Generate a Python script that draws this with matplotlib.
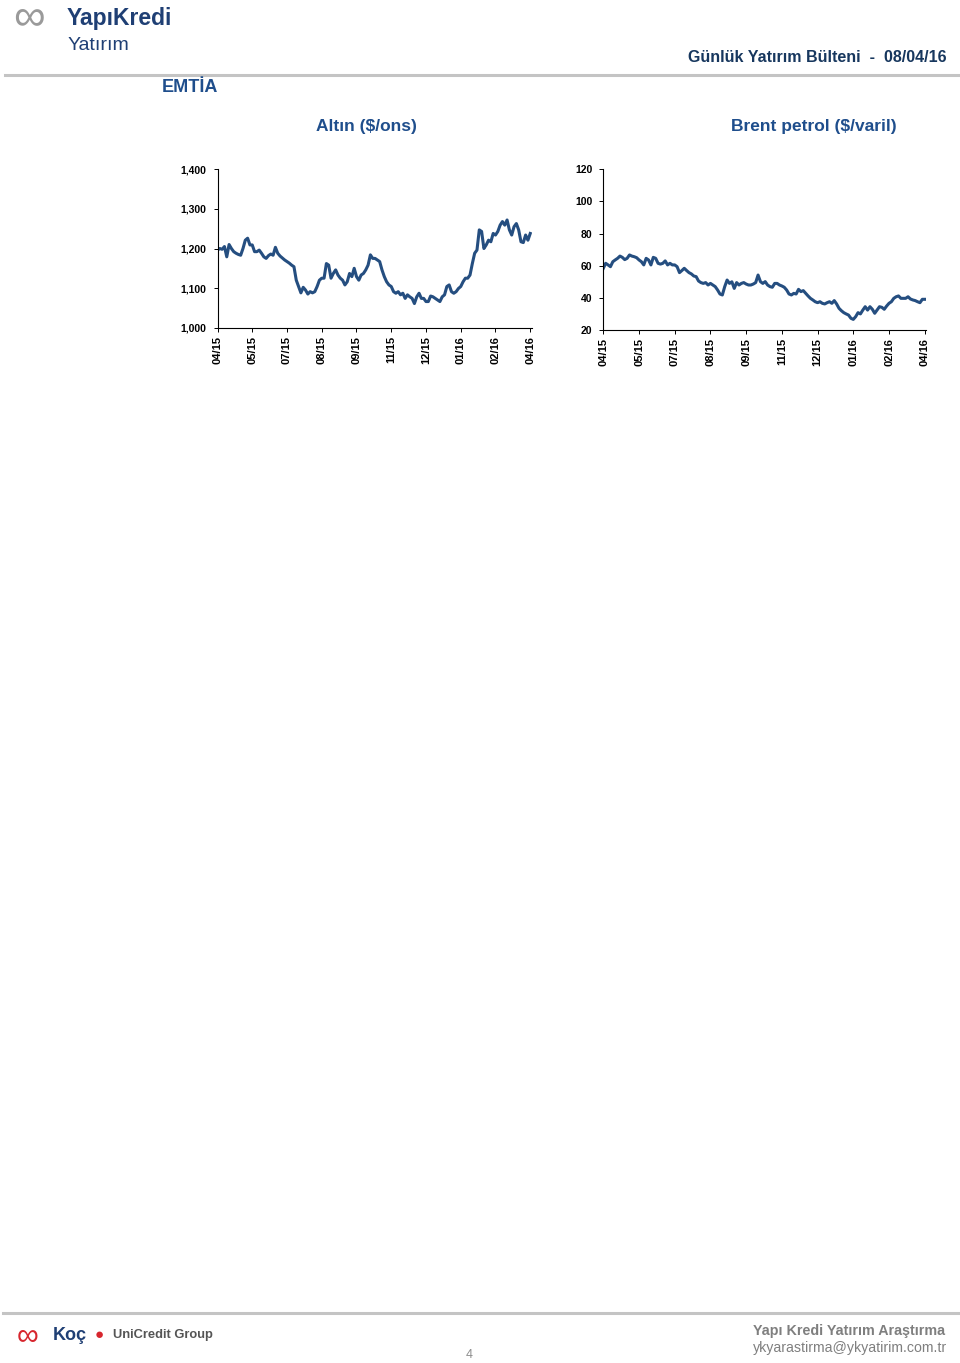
import matplotlib
matplotlib.use("Agg")
import matplotlib.pyplot as plt
import numpy as np

plt.rcParams['font.family'] = ['Liberation Sans', 'DejaVu Sans']

# ---------------- data ----------------
tick_labels = ["04/15", "05/15", "07/15", "08/15", "09/15",
               "11/15", "12/15", "01/16", "02/16", "04/16"]

gold_values = [
    1196,
    1200, 1198, 1205, 1179, 1210, 1200, 1192, 1188, 1185, 1183, 1200, 1221, 1226, 1209, 1209,
    1192, 1192, 1196, 1188, 1179, 1175, 1182, 1186, 1183, 1203, 1188, 1181, 1176, 1171, 1167,
    1163, 1158, 1154, 1120, 1104, 1088, 1102, 1095, 1085, 1091, 1088, 1091, 1104, 1120, 1125,
    1125, 1162, 1158, 1125, 1137, 1146, 1133, 1125, 1120, 1108, 1116, 1137, 1129, 1150, 1129,
    1120, 1133, 1137, 1146, 1158, 1184, 1175, 1175, 1171, 1167, 1146, 1129, 1116, 1108, 1104,
    1091, 1087, 1091, 1083, 1087, 1074, 1083, 1078, 1074, 1061, 1078, 1087, 1074, 1074, 1066,
    1066, 1080, 1078, 1074, 1070, 1066, 1078, 1083, 1104, 1108, 1091, 1087, 1091, 1099, 1104,
    1116, 1125, 1125, 1133, 1162, 1188, 1196, 1247, 1243, 1200, 1209, 1221, 1217, 1238, 1234,
    1243, 1259, 1268, 1259, 1272, 1247, 1234, 1255, 1263, 1247, 1217, 1215, 1234, 1221, 1238,
]

brent_values = [
    58.4,
    61.5, 60.5, 59.4, 62.5, 63.6, 64.6, 66.0, 65.2, 63.8, 64.6, 66.7, 66.0, 65.6, 65.0, 63.6,
    62.5, 60.5, 64.6, 63.6, 60.5, 65.2, 64.6, 61.5, 61.0, 61.5, 63.0, 60.5, 61.5, 60.5, 60.5,
    59.4, 55.7, 57.0, 58.4, 57.0, 55.7, 54.9, 53.6, 53.2, 50.5, 49.5, 49.0, 49.5, 48.0, 49.0,
    48.0, 47.0, 44.9, 42.4, 41.8, 47.0, 51.1, 49.0, 50.0, 45.9, 49.5, 48.0, 49.0, 49.5, 48.6,
    48.0, 48.0, 48.6, 49.5, 54.2, 50.1, 49.0, 50.1, 48.0, 47.0, 46.6, 49.0, 49.0, 48.0, 47.4,
    46.6, 44.9, 42.4, 41.8, 42.8, 42.4, 45.3, 43.9, 44.5, 42.8, 41.2, 39.7, 38.7, 37.6, 37.0,
    37.6, 36.6, 36.2, 37.0, 37.6, 36.6, 38.3, 36.2, 33.5, 32.0, 30.8, 30.0, 29.3, 27.3, 26.6,
    28.3, 30.8, 30.0, 32.4, 34.5, 32.4, 34.5, 32.9, 30.4, 32.4, 34.5, 34.1, 32.9, 34.9, 36.6,
    37.6, 39.7, 40.7, 41.2, 39.7, 39.7, 39.7, 40.7, 39.3, 38.7, 38.3, 37.6, 37.0, 39.1, 39.1,
]

gold_yticks = [1000, 1100, 1200, 1300, 1400]
brent_yticks = [20, 40, 60, 80, 100, 120]

# ---------------- style ----------------
W, H = 960, 1363
LINE_C = "#254E80"
TITLE_C = "#1F4E8C"

fig = plt.figure(figsize=(W / 100, H / 100), dpi=100)


def fx(px):
    return px / W


def fy(py):
    return 1 - py / H


def style_axes(ax, yticks, fmt):
    for s in ["top", "right"]:
        ax.spines[s].set_visible(False)
    for s in ["left", "bottom"]:
        ax.spines[s].set_linewidth(0.8)
        ax.spines[s].set_color("black")
    ax.set_yticks(yticks)
    ax.set_yticklabels([fmt(v) for v in yticks], fontsize=7.5, fontweight="bold")
    ax.tick_params(axis="y", length=3, width=0.7, pad=5, direction="out")
    ax.tick_params(axis="x", length=3, width=0.7, pad=3, direction="out")


def add_chart(left, right, bottom, top, values, yticks, fmt):
    ax = fig.add_axes([fx(left), fy(bottom), fx(right - left), fy(top) - fy(bottom)])
    x = np.arange(len(values))
    ax.plot(x, values, color=LINE_C, linewidth=2.2, solid_joinstyle="round")
    n = len(values) - 1
    ax.set_xlim(0, n * 1.004)
    ax.set_ylim(yticks[0], yticks[-1])
    ax.set_xticks(np.linspace(0, n, len(tick_labels)))
    ax.set_xticklabels(tick_labels, rotation=90, fontsize=8, fontweight="bold")
    style_axes(ax, yticks, fmt)
    return ax


add_chart(217.5, 531.5, 327.7, 169.3, gold_values, gold_yticks, lambda v: f"{v:,}")
add_chart(603.3, 926.0, 330.0, 169.3, brent_values, brent_yticks, lambda v: f"{v}")

# ---------------- page decorations ----------------
fig.text(fx(366), fy(127), "Altın ($/ons)", ha="center", va="center",
         fontsize=12.5, fontweight="bold", color=TITLE_C)
fig.text(fx(814), fy(127), "Brent petrol ($/varil)", ha="center", va="center",
         fontsize=12.5, fontweight="bold", color=TITLE_C)

fig.text(fx(162), fy(87), "EMTİA", ha="left", va="center",
         fontsize=13, fontweight="bold", color=TITLE_C)

fig.text(fx(947), fy(57), "Günlük Yatırım Bülteni  -  08/04/16", ha="right", va="center",
         fontsize=11.5, fontweight="bold", color="#17375E")

# header line
fig.add_artist(plt.Line2D([fx(5), fx(958)], [fy(75), fy(75)], color="#C4C4C4", linewidth=2.2))
# footer line
fig.add_artist(plt.Line2D([fx(3), fx(958)], [fy(1313), fy(1313)], color="#C4C4C4", linewidth=2.2))

# logo (text rendition)
fig.text(fx(13), fy(18), "∞", ha="left", va="center", fontsize=32, color="#9A9A9A")
fig.text(fx(67), fy(18), "YapıKredi", ha="left", va="center",
         fontsize=16.5, fontweight="bold", color="#1F3F74")
fig.text(fx(68), fy(45), "Yatırım", ha="left", va="center",
         fontsize=14, color="#1F3F74")

# footer logos
fig.text(fx(17), fy(1336), "∞", ha="left", va="center", fontsize=22, color="#D7262E")
fig.text(fx(53), fy(1336), "Koç", ha="left", va="center", fontsize=13,
         fontweight="bold", color="#1F3F74")
fig.text(fx(95), fy(1335), "●", ha="left", va="center", fontsize=11, color="#D7262E")
fig.text(fx(113), fy(1335), "UniCredit Group", ha="left", va="center", fontsize=9.3,
         color="#555555", fontweight="bold")

fig.text(fx(469), fy(1355), "4", ha="center", va="center", fontsize=9, color="#8C8C8C")
fig.text(fx(945), fy(1331), "Yapı Kredi Yatırım Araştırma", ha="right", va="center",
         fontsize=10.3, fontweight="bold", color="#7F7F7F")
fig.text(fx(947), fy(1348), "ykyarastirma@ykyatirim.com.tr", ha="right", va="center",
         fontsize=10.2, color="#7F7F7F")

fig.savefig("out.png", dpi=100)
